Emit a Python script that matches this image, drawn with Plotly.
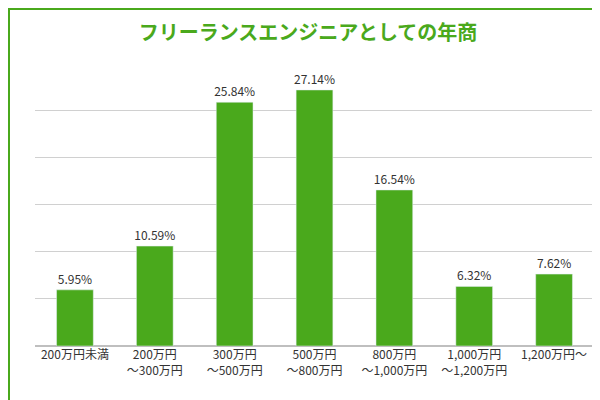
import plotly.graph_objects as go

categories = ["200万円未満", "200万円<br>～300万円", "300万円<br>～500万円", "500万円<br>～800万円",
              "800万円<br>～1,000万円", "1,000万円<br>～1,200万円", "1,200万円～"]
values = [5.95, 10.59, 25.84, 27.14, 16.54, 6.32, 7.62]
labels = [f"{v:.2f}%" for v in values]

green = "#4aa91c"
W, H = 600, 400
ml, mr, mt, mb = 27, 14, 55, 62
pw, ph = W - ml - mr, H - mt - mb

fig = go.Figure(go.Bar(
    x=categories, y=values, text=labels, textposition="outside",
    textfont=dict(size=12, color="#333333"), marker_color=green, width=0.46,
    cliponaxis=False, constraintext="none",
))

fig.update_layout(
    width=W, height=H, margin=dict(l=ml, r=mr, t=mt, b=mb, autoexpand=False),
    paper_bgcolor="white", plot_bgcolor="white", showlegend=False,
    font=dict(family="Noto Sans CJK JP", size=12, color="#333333"),
    title=dict(text="<b>フリーランスエンジニアとしての年商</b>", x=0.5, y=0.955,
               xanchor="center", font=dict(size=20, color=green)),
    yaxis=dict(range=[0, 30], dtick=5, showticklabels=False, gridcolor="#d0d0d0",
               zeroline=True, zerolinecolor="#bfbfbf", fixedrange=True, automargin=False),
    xaxis=dict(tickfont=dict(size=12, color="#333333"), ticks="", showline=False,
               automargin=False),
)

# green frame around the whole picture
fig.add_shape(type="rect", xref="paper", yref="paper",
              x0=-(ml - 1) / pw, x1=1 + (mr - 1) / pw,
              y0=-(mb - 1) / ph, y1=1 + (mt - 1) / ph,
              line=dict(color=green, width=2))

fig.write_html("out.html")
